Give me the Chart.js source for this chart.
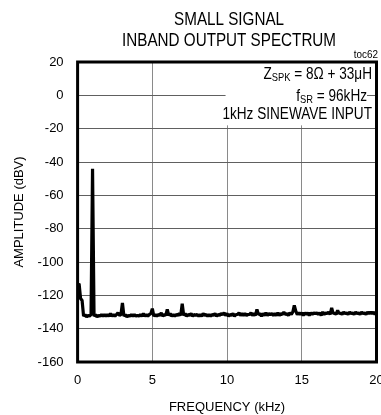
<!DOCTYPE html>
<html>
<head>
<meta charset="utf-8">
<script src="https://cdn.jsdelivr.net/npm/chart.js@4/dist/chart.umd.min.js"></script>
<style>
  html, body { margin: 0; padding: 0; background: #fff; overflow: hidden; }
  #wrap { width: 400px; height: 415px; }
</style>
</head>
<body>
<div id="wrap"><canvas id="chart" width="400" height="415"></canvas></div>
<script>
// data, one row per kHz (0.1 kHz steps)
const freqStep = 0.1;
const amplitude = [
  -114, -113, -122, -123, -132.5, -131.5, -133, -132, -132.5, -131.5,
  -44, -132.5, -131.5, -133, -132, -132.5, -131.5, -132.5, -131.5, -132.5,
  -131.5, -132.5, -131, -132.5, -131.5, -132.5, -131.5, -130.5, -132, -131.5,
  -124.5, -132.5, -131.5, -133, -132, -132.5, -131.5, -132.5, -131.5, -132.5,
  -132, -132.5, -131.5, -132.5, -131, -132.5, -131.5, -132.5, -131.5, -131,
  -128, -132.5, -131.5, -132.5, -131.5, -132, -130.5, -132.5, -131.5, -132,
  -128.5, -132, -131, -132.5, -131.5, -132.5, -131.5, -132, -131, -132,
  -125, -132, -131, -132.5, -131.5, -132, -131, -132.5, -131.5, -132,
  -131.5, -132.5, -131.5, -132.5, -131, -132, -131.5, -132.5, -131.5, -132.5,
  -131.5, -132, -131, -132.5, -131.5, -132, -131, -131.5, -130.5, -132,
  -131, -132.5, -131.5, -132, -131, -132.5, -131.5, -131.5, -130.5, -132,
  -131, -132, -131, -132, -131.5, -131.5, -130.5, -132, -131, -132,
  -128.5, -131.5, -131, -132.5, -131, -132, -130.5, -132, -131, -131.5,
  -131, -132, -131, -132, -130.5, -132, -131, -131.5, -130, -131.5,
  -131, -132, -130.5, -131.5, -130, -126, -129.5, -131.5, -130.5, -131.5,
  -130.5, -132, -130.5, -131.5, -130.5, -132, -130.5, -131.5, -130.5, -131,
  -130.5, -131.5, -130.5, -132, -130, -131.5, -130.5, -131, -130, -131.5,
  -127.5, -131, -130.5, -131.5, -129, -131, -130.5, -131.5, -130, -131,
  -130.5, -131.5, -130, -131, -130.5, -131.5, -130, -131, -130.5, -131.5,
  -130, -131, -130.5, -131.5, -130, -131, -130, -131, -130, -131.5,
  -130
];
const titleLines = ["SMALL SIGNAL", "INBAND OUTPUT SPECTRUM"];
const noteLines = ["= 8Ω + 33μH", "= 96kHz", "1kHz SINEWAVE INPUT"];

const sans = '"Liberation Sans", Arial, sans-serif';

// punten voor de lijn
const points = amplitude.map((v, i) => ({ x: Math.round(i * freqStep * 10) / 10, y: v }));

// smalle tekst, rechts uitgelijnd, geeft de breedte terug
function narrowText(ctx, str, right, y, size, squeeze) {
  ctx.font = size + "px " + sans;
  const w = ctx.measureText(str).width * squeeze;
  ctx.save();
  ctx.translate(right - w, y);
  ctx.scale(squeeze, 1);
  ctx.textAlign = "left";
  ctx.fillText(str, 0, 0);
  ctx.restore();
  return w;
}

// titel, tekstvak en kader
const decorPlugin = {
  id: "decor",
  beforeDatasetsDraw(chart) {
    const ctx = chart.ctx;
    const area = chart.chartArea;
    const xs = chart.scales.x;
    const ys = chart.scales.y;
    const sq = 0.85;
    ctx.save();
    ctx.fillStyle = "#fff";
    const bx = xs.getPixelForValue(9.9);
    ctx.fillRect(bx, area.top, 367 - bx, ys.getPixelForValue(-18) - area.top);
    ctx.fillStyle = "#000";
    ctx.textBaseline = "alphabetic";
    // Z_SPK regel
    let r = 372;
    r -= narrowText(ctx, " " + noteLines[0], r, 79, 16, sq);
    r -= narrowText(ctx, "SPK", r, 81, 11, sq);
    narrowText(ctx, "Z", r, 79, 16, sq);
    // f_SR regel
    r = 367;
    r -= narrowText(ctx, " " + noteLines[1], r, 101, 16, sq);
    r -= narrowText(ctx, "SR", r, 103, 11, sq);
    narrowText(ctx, "f", r, 101, 16, sq);
    // derde regel met eigen achtergrond
    ctx.font = "16px " + sans;
    const w = ctx.measureText(noteLines[2]).width * sq;
    ctx.fillStyle = "#fff";
    ctx.fillRect(372 - w - 1, 105, w + 3, 16);
    ctx.fillStyle = "#000";
    narrowText(ctx, noteLines[2], 372, 119, 16, sq);
    ctx.restore();
  },
  afterDraw(chart) {
    const ctx = chart.ctx;
    const area = chart.chartArea;
    ctx.save();
    ctx.strokeStyle = "#000";
    ctx.lineWidth = 3;
    ctx.strokeRect(area.left, area.top, area.right - area.left, area.bottom - area.top);
    ctx.fillStyle = "#000";
    ctx.textBaseline = "alphabetic";
    const cx = (area.left + area.right) / 2 + 2;
    ctx.font = "17.5px " + sans;
    const w1 = ctx.measureText(titleLines[0]).width * 0.87;
    const w2 = ctx.measureText(titleLines[1]).width * 0.87;
    narrowText(ctx, titleLines[0], cx + w1 / 2, 25, 17.5, 0.87);
    narrowText(ctx, titleLines[1], cx + w2 / 2, 46, 17.5, 0.87);
    narrowText(ctx, "toc62", 378, 58, 11, 0.9);
    ctx.restore();
  }
};

new Chart(document.getElementById("chart"), {
  type: "line",
  data: {
    datasets: [{
      data: points,
      borderColor: "#000",
      borderWidth: 3.2,
      borderJoinStyle: "bevel",
      pointRadius: 0,
      tension: 0,
      fill: false
    }]
  },
  options: {
    responsive: false,
    animation: false,
    layout: { padding: { top: 62, right: 23.5, bottom: 0, left: 0 } },
    plugins: { legend: { display: false }, tooltip: { enabled: false } },
    scales: {
      x: {
        type: "linear",
        min: 0,
        max: 20,
        afterFit(scale) { scale.height = 53; },
        ticks: { stepSize: 5, padding: 11, color: "#000", font: { family: sans, size: 13 } },
        grid: { color: "#8a8a8a", lineWidth: 1, drawTicks: false },
        border: { display: false },
        title: {
          display: true,
          text: "FREQUENCY (kHz)",
          color: "#000",
          font: { family: sans, size: 13, lineHeight: 1.2 },
          padding: { top: 0, bottom: 0 }
        }
      },
      y: {
        min: -160,
        max: 20,
        afterFit(scale) { scale.width = 77.6; },
        ticks: { stepSize: 20, padding: 14, color: "#000", font: { family: sans, size: 13 } },
        grid: { color: "#606060", lineWidth: 1, drawTicks: false },
        border: { display: false },
        title: {
          display: true,
          text: "AMPLITUDE (dBV)",
          color: "#000",
          font: { family: sans, size: 13, lineHeight: 1.2 },
          padding: { top: 12, bottom: 0 }
        }
      }
    }
  },
  plugins: [decorPlugin]
});
</script>
</body>
</html>
